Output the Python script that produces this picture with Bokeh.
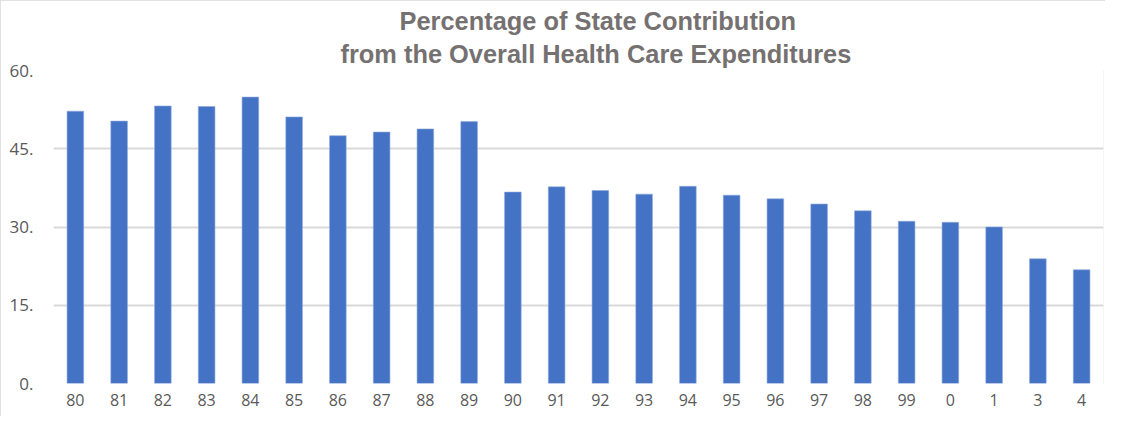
from bokeh.plotting import figure
from bokeh.models import FactorRange, Range1d, FixedTicker, Title
from bokeh.embed import file_html
from bokeh.resources import INLINE

years = ["80", "81", "82", "83", "84", "85", "86", "87", "88", "89", "90", "91",
         "92", "93", "94", "95", "96", "97", "98", "99", "0", "1", "3", "4"]
state_share = [52.2, 50.3, 53.2, 53.1, 54.9, 51.1, 47.5, 48.2, 48.8, 50.2, 36.7, 37.7,
               37.0, 36.3, 37.8, 36.1, 35.4, 34.4, 33.1, 31.1, 30.9, 30.0, 23.9, 21.8]
y_ticks = [0, 15, 30, 45, 60]
y_tick_labels = ["0.", "15.", "30.", "45.", "60."]
title_line1 = "Percentage of State Contribution"
title_line2 = "from the Overall Health Care Expenditures"

p = figure(x_range=FactorRange(*years, range_padding=0), y_range=Range1d(0, 60),
           width=1105, height=416, output_backend="svg", toolbar_location=None,
           title=None,
           min_border_left=53, min_border_right=2, min_border_top=70, min_border_bottom=33)

p.vbar(x=years, top=state_share, width=0.38, fill_color="#4472C4", line_color="#8EA9DB",
       line_width=0.6)

for txt, st, off in ((title_line2, 6, 287), (title_line1, 0, 346)):
    p.add_layout(Title(text=txt, align="left", offset=off, standoff=st,
                       text_font="Liberation Sans", text_font_style="bold",
                       text_font_size="25.4px", text_color="#767171"), "above")

p.outline_line_color = None
p.xgrid.grid_line_color = None
p.ygrid.grid_line_color = "#d9d9d9"
p.ygrid.grid_line_width = 2
p.yaxis.ticker = FixedTicker(ticks=y_ticks)
p.yaxis.major_label_overrides = {t: s for t, s in zip(y_ticks, y_tick_labels)}

for ax in (p.xaxis[0], p.yaxis[0]):
    ax.axis_line_color = None
    ax.major_tick_line_color = None
    ax.minor_tick_line_color = None
    ax.major_tick_out = 0
    ax.major_tick_in = 0
    ax.minor_tick_out = 0
    ax.major_label_text_font = "Open Sans"
    ax.major_label_text_font_size = "17px"
    ax.major_label_text_color = "#595959"
p.xaxis.major_label_text_font_size = "16px"
p.xaxis.major_label_standoff = 10
p.yaxis.major_label_standoff = 20

p.styles = {"outline": "2px solid #d9d9d9", "outline-offset": "-2px"}

open("out.html", "w").write(file_html(p, INLINE))
